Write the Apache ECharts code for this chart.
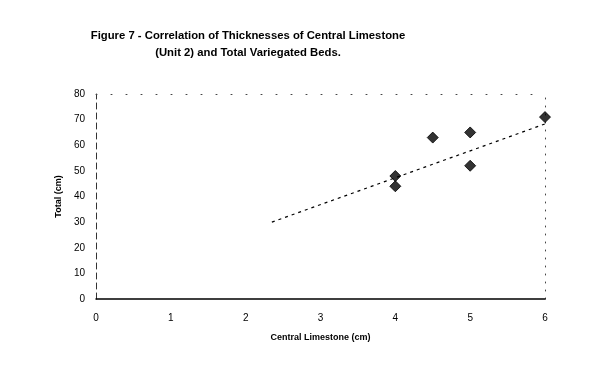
<!DOCTYPE html>
<html><head><meta charset="utf-8">
<script src="https://cdn.jsdelivr.net/npm/echarts@6/dist/echarts.min.js"></script>
<style>html,body{margin:0;padding:0;background:#fff}#c{width:600px;height:378px}</style>
</head><body><div id="c"></div>
<script>
var limestone = [4, 4, 4.5, 5, 5, 6];
var total = [48, 44, 63, 65, 52, 71];
var trendX = [2.35, 6.16];
var trendY = [30, 70];
var xTicks = [0, 1, 2, 3, 4, 5, 6];
var yTicks = [0, 10, 20, 30, 40, 50, 60, 70, 80];

var pts = limestone.map(function (x, i) { return [x, total[i]]; });
var trend = trendX.map(function (x, i) { return [x, trendY[i]]; });
var font = 'Liberation Sans, Arial, sans-serif';
var chart = echarts.init(document.getElementById('c'));
chart.setOption({
  animation: false,
  backgroundColor: '#fff',
  title: {
    text: 'Figure 7 - Correlation of Thicknesses of Central Limestone\n(Unit 2) and Total Variegated Beds.',
    left: 243, top: 22, textAlign: 'center',
    textStyle: { fontFamily: font, fontSize: 11.3, fontWeight: 'bold', color: '#000', lineHeight: 17, align: 'center' }
  },
  grid: { left: 96, right: 55, top: 94, bottom: 79 },
  xAxis: [{
    type: 'value', min: 0, max: 6, interval: 1,
    name: 'Central Limestone (cm)', nameLocation: 'middle', nameGap: 34,
    nameTextStyle: { fontFamily: font, fontSize: 9, fontWeight: 'bold', color: '#000' },
    axisLine: { lineStyle: { color: '#000', width: 1.5 } },
    axisTick: { show: false },
    axisLabel: { fontFamily: font, fontSize: 10, color: '#000', margin: 14 },
    splitLine: { show: false }
  }, {
    type: 'value', min: 0, max: 6, interval: 1, position: 'top',
    axisLine: { show: true, onZero: false, lineStyle: { color: '#444', type: [1, 14], width: 1 } },
    axisTick: { show: false }, axisLabel: { show: false }, splitLine: { show: false }
  }],
  yAxis: [{
    type: 'value', min: 0, max: 80, interval: 10,
    name: 'Total (cm)', nameLocation: 'middle', nameGap: 28, nameRotate: 90,
    nameTextStyle: { fontFamily: font, fontSize: 9, fontWeight: 'bold', color: '#000' },
    axisLine: { show: true, onZero: false, lineStyle: { color: '#333', width: 1, type: [6, 4] } },
    axisTick: { show: false },
    axisLabel: { fontFamily: font, fontSize: 10, color: '#000', margin: 11 },
    splitLine: { show: false }
  }, {
    type: 'value', min: 0, max: 80, interval: 10, position: 'right',
    axisLine: { show: true, onZero: false, lineStyle: { color: '#444', type: [1, 7], width: 1 } },
    axisTick: { show: false }, axisLabel: { show: false }, splitLine: { show: false }
  }],
  series: [{
    type: 'line', data: trend, showSymbol: false, symbol: 'none', clip: false,
    lineStyle: { color: '#000', width: 1.2, type: [3, 4] }, z: 1
  }, {
    type: 'scatter', data: pts, symbol: 'diamond', symbolSize: 11,
    itemStyle: { color: '#000', borderColor: '#000', borderWidth: 1 }, z: 3
  }]
});
</script></body></html>
